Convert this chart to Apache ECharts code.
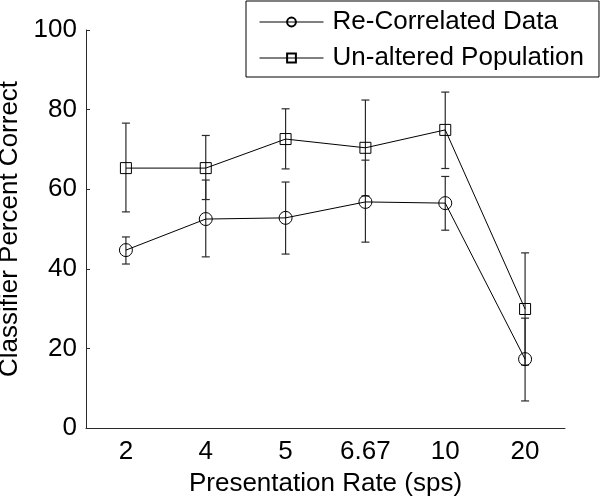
<!DOCTYPE html>
<html>
<head>
<meta charset="utf-8">
<script src="https://cdn.jsdelivr.net/npm/echarts@6/dist/echarts.min.js"></script>
<style>html,body{margin:0;padding:0;background:#fff}#c{width:600px;height:496px}</style>
</head>
<body>
<div id="c"></div>
<script>
const categories = ['2', '4', '5', '6.67', '10', '20'];
const seriesNames = ['Re-Correlated Data', 'Un-altered Population'];
const reCorrMean = [44.7, 52.5, 52.8, 56.8, 56.5, 17.3];
const reCorrLow  = [41.2, 43.0, 43.7, 46.7, 49.7, 6.8];
const reCorrHigh = [48.0, 62.3, 61.8, 67.3, 63.2, 27.6];
const unaltMean = [65.3, 65.3, 72.6, 70.4, 74.9, 29.9];
const unaltLow  = [54.3, 57.4, 65.1, 58.3, 65.2, 15.8];
const unaltHigh = [76.6, 73.5, 80.2, 82.4, 84.4, 44.0];
const yTicks = [0, 20, 40, 60, 80, 100];

const FONT = 'Liberation Sans, Arial, sans-serif';
const AX = '#2a2a2a';
const FS = 26;

function errData(low, high) {
  return categories.map((c, i) => [i, low[i], high[i]]);
}
function errRender(params, api) {
  const x = api.value(0);
  const lo = api.coord([x, api.value(1)]);
  const hi = api.coord([x, api.value(2)]);
  const w = 4;
  const st = { stroke: AX, lineWidth: 1.2 };
  return {
    type: 'group',
    children: [
      { type: 'line', shape: { x1: lo[0], y1: lo[1], x2: hi[0], y2: hi[1] }, style: st },
      { type: 'line', shape: { x1: lo[0] - w, y1: lo[1], x2: lo[0] + w, y2: lo[1] }, style: st },
      { type: 'line', shape: { x1: hi[0] - w, y1: hi[1], x2: hi[0] + w, y2: hi[1] }, style: st }
    ]
  };
}

const chart = echarts.init(document.getElementById('c'), null, { renderer: 'canvas' });
chart.setOption({
  animation: false,
  backgroundColor: '#fff',
  grid: { left: 86, right: 35, top: 30, bottom: 68, containLabel: false, outerBoundsMode: 'none' },
  legend: {
    orient: 'vertical',
    left: 246,
    top: 1,
    padding: [8, 15, 6, 13],
    itemGap: 10,
    itemWidth: 64,
    itemHeight: 11,
    borderColor: '#000',
    borderWidth: 1,
    backgroundColor: '#fff',
    lineStyle: { width: 1, color: '#000' },
    textStyle: { fontFamily: FONT, fontSize: FS, color: '#000', lineHeight: 26, padding: [0, 0, 0, 4] },
    data: seriesNames
  },
  xAxis: {
    type: 'category',
    data: categories,
    boundaryGap: true,
    name: 'Presentation Rate (sps)',
    nameLocation: 'middle',
    nameGap: 43,
    nameTextStyle: { fontFamily: FONT, fontSize: FS, color: '#000' },
    axisLine: { lineStyle: { color: AX, width: 1 } },
    axisTick: { alignWithLabel: true, inside: true, length: 4, lineStyle: { color: AX } },
    axisLabel: { fontFamily: FONT, fontSize: FS, color: '#000', margin: 11 },
    splitLine: { show: false }
  },
  yAxis: {
    type: 'value',
    min: yTicks[0],
    max: yTicks[yTicks.length - 1],
    interval: yTicks[1] - yTicks[0],
    name: 'Classifier Percent Correct',
    nameLocation: 'middle',
    nameGap: 60,
    nameTextStyle: { fontFamily: FONT, fontSize: FS, color: '#000' },
    axisLine: { show: true, lineStyle: { color: AX, width: 1 } },
    axisTick: { show: true, inside: true, length: 4, lineStyle: { color: AX } },
    axisLabel: { fontFamily: FONT, fontSize: FS, color: '#000', margin: 9 },
    splitLine: { show: false }
  },
  series: [
    { type: 'custom', name: 'err1', renderItem: errRender, data: errData(reCorrLow, reCorrHigh), z: 1, silent: true },
    { type: 'custom', name: 'err2', renderItem: errRender, data: errData(unaltLow, unaltHigh), z: 1, silent: true },
    {
      type: 'line', name: seriesNames[0], data: reCorrMean, z: 3,
      symbol: 'circle', symbolSize: 13, showAllSymbol: true,
      lineStyle: { color: '#000', width: 1 },
      itemStyle: { color: 'rgba(0,0,0,0)', borderColor: '#000', borderWidth: 1 }
    },
    {
      type: 'line', name: seriesNames[1], data: unaltMean, z: 3,
      symbol: 'rect', symbolSize: 11, showAllSymbol: true,
      lineStyle: { color: '#000', width: 1 },
      itemStyle: { color: 'rgba(0,0,0,0)', borderColor: '#000', borderWidth: 1 }
    }
  ]
});
</script>
</body>
</html>
